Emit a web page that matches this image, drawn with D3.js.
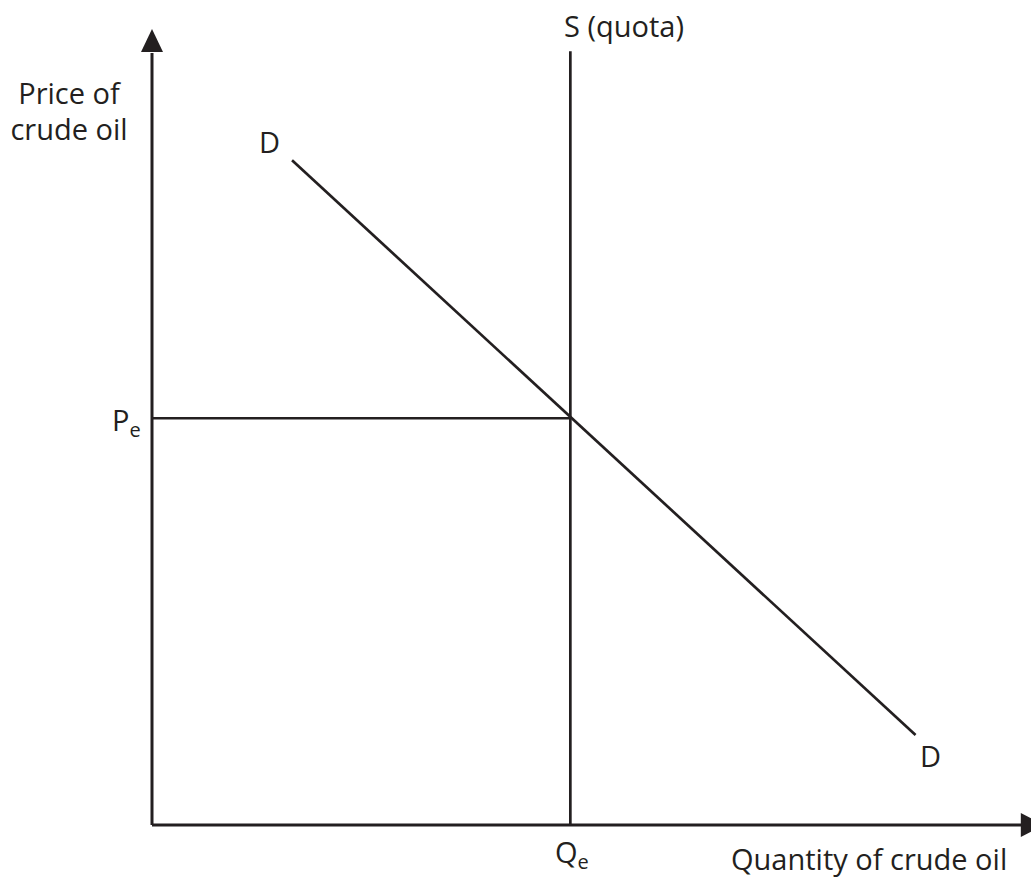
<!DOCTYPE html>
<html>
<head>
<meta charset="utf-8">
<script src="https://cdn.jsdelivr.net/npm/d3@7"></script>
<style>
  body { margin: 0; background: #fff; }
  text { font-family: "Open Sans", "Noto Sans", sans-serif; fill: #231f20; }
</style>
</head>
<body>
<svg id="chart" width="1031" height="877"></svg>
<script>
// quantity / price in arbitrary units (0-100)
const demandQ = [15.7, 85.6];
const demandP = [83.5, 11.3];
const quotaQ = 46.9;
const quotaTop = 97.2;
const eqPrice = 51.1;
const axisLabels = ['Price of', 'crude oil'];
const xLabel = 'Quantity of crude oil';

const width = 1031, height = 877;
const ink = '#231f20';

const x = d3.scaleLinear().domain([0, 100]).range([152, 1044]);
const y = d3.scaleLinear().domain([0, 100]).range([825, 29]);

const svg = d3.select('#chart');

// axes
svg.append('line')
    .attr('x1', x(0)).attr('y1', y(0))
    .attr('x2', x(0)).attr('y2', y(97))
    .attr('stroke', ink).attr('stroke-width', 3);
svg.append('path')
    .attr('d', `M${x(0)},${y(100)} L${x(0) - 11},${y(97.1)} L${x(0) + 11},${y(97.1)} Z`)
    .attr('fill', ink);

svg.append('line')
    .attr('x1', x(0)).attr('y1', y(0))
    .attr('x2', x(97.5)).attr('y2', y(0))
    .attr('stroke', ink).attr('stroke-width', 3);
svg.append('path')
    .attr('d', `M${x(97.4)},${y(0) - 12} L${x(100)},${y(0)} L${x(97.4)},${y(0) + 12} Z`)
    .attr('fill', ink);

// supply (quota)
svg.append('line')
    .attr('x1', x(quotaQ)).attr('y1', y(0))
    .attr('x2', x(quotaQ)).attr('y2', y(quotaTop))
    .attr('stroke', ink).attr('stroke-width', 2.7);

// equilibrium price line
svg.append('line')
    .attr('x1', x(0)).attr('y1', y(eqPrice))
    .attr('x2', x(quotaQ)).attr('y2', y(eqPrice))
    .attr('stroke', ink).attr('stroke-width', 2.7);

// demand
svg.append('line')
    .attr('x1', x(demandQ[0])).attr('y1', y(demandP[0]))
    .attr('x2', x(demandQ[1])).attr('y2', y(demandP[1]))
    .attr('stroke', ink).attr('stroke-width', 2.7);

// labels
const fs = 29;
svg.append('text')
    .attr('text-anchor', 'middle')
    .style('font-size', fs + 'px')
    .selectAll('tspan').data(axisLabels).enter().append('tspan')
    .attr('x', 69).attr('y', (d, i) => 104 + i * 36)
    .text(d => d);

svg.append('text')
    .attr('x', 564).attr('y', 37)
    .style('font-size', fs + 'px')
    .text('S (quota)');

svg.append('text')
    .attr('x', 259).attr('y', 153)
    .style('font-size', fs + 'px')
    .text('D');
svg.append('text')
    .attr('x', 920).attr('y', 767)
    .style('font-size', fs + 'px')
    .text('D');

const pe = svg.append('text')
    .attr('x', 112).attr('y', 431)
    .style('font-size', fs + 'px');
pe.append('tspan').text('P');
pe.append('tspan').attr('dy', 6).style('font-size', '20px').text('e');

const qe = svg.append('text')
    .attr('x', 555).attr('y', 863)
    .style('font-size', fs + 'px');
qe.append('tspan').text('Q');
qe.append('tspan').attr('dy', 6).style('font-size', '20px').text('e');

svg.append('text')
    .attr('x', 731).attr('y', 870)
    .style('font-size', fs + 'px')
    .text(xLabel);
</script>
</body>
</html>
